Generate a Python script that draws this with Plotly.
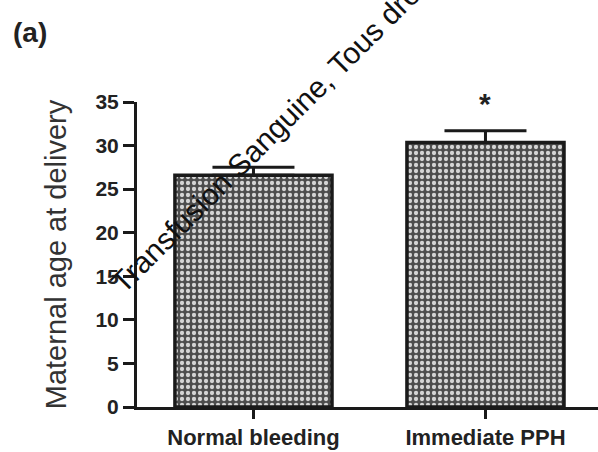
import plotly.graph_objects as go

categories = ["Normal bleeding", "Immediate PPH"]
means = [26.6, 30.35]
err_up = [0.9, 1.35]
err_down = [0, 0]
y_ticks = [0, 5, 10, 15, 20, 25, 30, 35]
y_title = "Maternal age at delivery"
panel_label = "(a)"
signif = ["", "*"]
watermark = "Transfusion Sanguine, Tous droits réservés"

ink = "#222222"
font_family = "Liberation Sans, Arial, sans-serif"

fig = go.Figure()
fig.add_trace(go.Bar(
    x=categories,
    y=means,
    width=0.677,
    marker=dict(
        color="#4d4d4d",
        line=dict(color="#1a1a1a", width=3.5),
        pattern=dict(shape=".", fgcolor="#d4d4d4", bgcolor="#4d4d4d",
                     size=6, solidity=0.4, fillmode="replace"),
    ),
    error_y=dict(type="data", symmetric=False, array=err_up, arrayminus=err_down,
                 color="#1a1a1a", thickness=3, width=41),
    showlegend=False,
))

for c, m, e, s in zip(categories, means, err_up, signif):
    if s:
        fig.add_annotation(x=c, y=m + e, text="<b>" + s + "</b>", showarrow=False,
                           yanchor="bottom", yshift=9,
                           font=dict(size=30, color=ink, family=font_family))

fig.add_annotation(xref="paper", yref="paper", x=(11 - 137) / 461, y=(407 - 33) / 305,
                   xanchor="left", yanchor="middle",
                   text="<b>" + panel_label + "</b>", showarrow=False,
                   font=dict(size=28, color=ink, family=font_family))

fig.add_annotation(xref="paper", yref="paper", x=(319 - 137) / 461, y=(407 - 84) / 305,
                   xanchor="center", yanchor="middle", textangle=-45,
                   text=watermark, showarrow=False,
                   font=dict(size=30, color="#111111", family=font_family))

fig.update_layout(
    width=598, height=452,
    margin=dict(l=137, r=0, t=102, b=45, autoexpand=False),
    paper_bgcolor="white", plot_bgcolor="white",
    font=dict(family=font_family, color=ink),
    xaxis=dict(
        type="category", range=[-0.502, 1.485],
        showline=True, linecolor="#1a1a1a", linewidth=3,
        ticks="outside", ticklen=9, tickwidth=2.5, tickcolor="#1a1a1a",
        showgrid=False, zeroline=False,
        tickfont=dict(size=22, color=ink, family=font_family),
        tickprefix="<b>", ticksuffix="</b>",
    ),
    yaxis=dict(
        range=[0, 35], tickvals=y_ticks,
        ticktext=["<b>%d</b>" % v for v in y_ticks],
        showline=True, linecolor="#1a1a1a", linewidth=3,
        ticks="outside", ticklen=11, tickwidth=2.5, tickcolor="#1a1a1a",
        showgrid=False, zeroline=False,
        tickfont=dict(size=21, color=ink, family=font_family),
        title=dict(text=y_title, font=dict(size=29, color="#333333", family=font_family),
                   standoff=21),
    ),
)

fig.write_html("out.html", config={"displayModeBar": False},
               post_script="document.body.style.margin='0';document.body.style.overflow='hidden';")
